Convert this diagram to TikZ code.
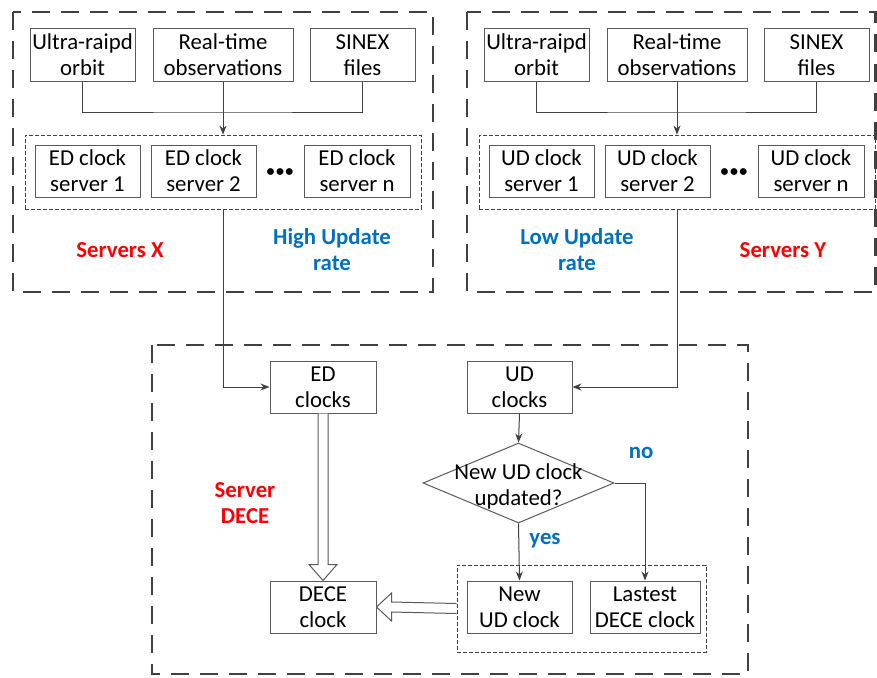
\documentclass[tikz,border=0pt]{standalone}
\usepackage{fontspec}
\setmainfont{Carlito}
\usetikzlibrary{arrows.meta,shapes.geometric,calc}
\definecolor{lc}{HTML}{404040}
\definecolor{bc}{HTML}{5A5A5A}
\definecolor{rd}{HTML}{FF0000}
\definecolor{bl}{HTML}{0070C0}
\tikzset{
  box/.style={draw=bc,line width=1pt,inner sep=0pt,align=center,minimum height=52pt,font=\fontsize{22.8}{26}\selectfont},
  group/.style={draw=lc,line width=0.8pt,dash pattern=on 4pt off 2pt,inner sep=0pt},
  outer/.style={draw=lc,line width=2.8pt,dash pattern=on 18pt off 11pt},
  conn/.style={draw=lc,line width=1pt},
  arr/.style={conn,-{Stealth[length=9pt,width=7pt]}},
  hollow/.style={draw=bc,line width=1pt,fill=white,line join=miter},
  redlbl/.style={text=rd,font=\fontsize{22.8}{26}\selectfont\bfseries,align=center},
  bluelbl/.style={text=bl,font=\fontsize{22.8}{26}\selectfont\bfseries,align=center},
  dotslbl/.style={font=\fontsize{16}{18}\selectfont\bfseries,inner sep=0pt}
}
\begin{document}
\begin{tikzpicture}[x=1pt,y=-1pt]
\useasboundingbox (0,0) rectangle (877,677);
% outer dashed frames
\draw[outer] (13,12) rectangle (433,292);
\draw[outer] (467,12) rectangle (875.5,292);
\draw[outer] (152,345) rectangle (748,674);

% ---- left top (Servers X)
\node[box,minimum width=105pt] (o1) at (82.5,55) {Ultra-raipd\\orbit};
\node[box,minimum width=140pt] (r1) at (223,55) {Real-time\\observations};
\node[box,minimum width=105pt] (s1) at (362.5,55) {SINEX\\files};
\node[group,minimum width=396pt,minimum height=74pt] (g1) at (223,172) {};
\node[box,minimum width=105pt] (e1) at (87.5,171) {ED clock\\server 1};
\node[box,minimum width=105pt] (e2) at (203.5,171) {ED clock\\server 2};
\node[box,minimum width=106pt] (en) at (357,171) {ED clock\\server n};
\node[dotslbl] (d1) at (280,173) {\textbullet\kern1.5pt\textbullet\kern1.5pt\textbullet};
\coordinate (j1) at (223,112);
\draw[conn] (o1.south) |- (j1) -| (s1.south);
\draw[arr] (r1.south) -- (g1.north);
\node[redlbl] (sx) at (120,250) {Servers X};
\node[bluelbl] (hu) at (332,250) {High Update\\rate};

% ---- right top (Servers Y)
\node[box,minimum width=105pt] (o2) at (536.5,55) {Ultra-raipd\\orbit};
\node[box,minimum width=140pt] (r2) at (677,55) {Real-time\\observations};
\node[box,minimum width=105pt] (s2) at (816.5,55) {SINEX\\files};
\node[group,minimum width=396pt,minimum height=74pt] (g2) at (677,172) {};
\node[box,minimum width=105pt] (u1) at (541.5,171) {UD clock\\server 1};
\node[box,minimum width=105pt] (u2) at (657.5,171) {UD clock\\server 2};
\node[box,minimum width=106pt] (un) at (811,171) {UD clock\\server n};
\node[dotslbl] (d2) at (734,173) {\textbullet\kern1.5pt\textbullet\kern1.5pt\textbullet};
\coordinate (j2) at (677,112);
\draw[conn] (o2.south) |- (j2) -| (s2.south);
\draw[arr] (r2.south) -- (g2.north);
\node[bluelbl] (lu) at (577,250) {Low Update\\rate};
\node[redlbl] (sy) at (783,250) {Servers Y};

% ---- bottom (Server DECE)
\node[box,minimum width=106pt] (edc) at (323,387) {ED\\clocks};
\node[box,minimum width=105pt] (udc) at (519.5,387) {UD\\clocks};
\node[diamond,draw=bc,line width=1pt,minimum width=191pt,minimum height=80pt,inner sep=0pt] (dia) at (518.5,483) {};
\node[align=center,font=\fontsize{22.8}{26}\selectfont] (diat) at (518.5,486) {New UD clock\\updated?};
\node[box,minimum width=106pt] (dece) at (323,607) {DECE\\clock};
\node[group,minimum width=249pt,minimum height=87pt] (g3) at (581.5,608.5) {};
\node[box,minimum width=105pt] (newud) at (519.5,607) {New\\UD clock};
\node[box,minimum width=110pt] (last) at (645,607) {Lastest\\DECE clock};

\draw[arr] (g1.south) |- (edc.west);
\draw[arr] (g2.south) |- (udc.east);
\draw[arr] (udc.south) -- (dia.north);
\draw[arr] (dia.south) -- (newud.north);
\draw[arr] (dia.east) -| (last.north);

% hollow arrows
\draw[hollow] ($(edc.south)+(-5,0)$) -- ($(dece.north)+(-5,-16)$) -- ($(dece.north)+(-14,-16)$)
  -- (dece.north) -- ($(dece.north)+(14,-16)$) -- ($(dece.north)+(5,-16)$) -- ($(edc.south)+(5,0)$);
\draw[hollow] ($(g3.west)+(0,-5)$) -- ($(dece.east)+(15,-5)$) -- ($(dece.east)+(15,-14)$)
  -- (dece.east) -- ($(dece.east)+(15,14)$) -- ($(dece.east)+(15,5)$) -- ($(g3.west)+(0,5)$);

\node[redlbl] (sd) at (245,503) {Server\\DECE};
\node[bluelbl] (no) at (641,453) {no};
\node[bluelbl] (yes) at (545,541) {yes};
\end{tikzpicture}
\end{document}
